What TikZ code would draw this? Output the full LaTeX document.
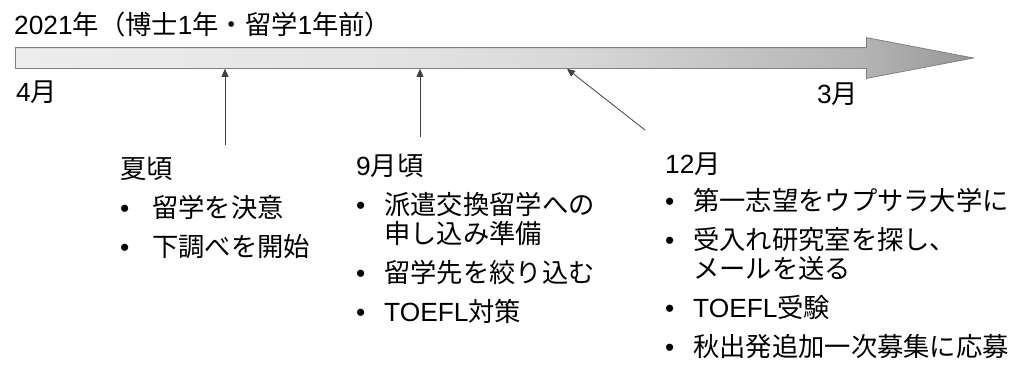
\documentclass[tikz,border=0pt]{standalone}
\usepackage{fontspec}
\setmainfont{Noto Sans CJK JP}
\newfontfamily\lat{Liberation Sans}
\usetikzlibrary{arrows.meta,shapes.arrows,positioning}
\pgfdeclarehorizontalshading{barshade}{100bp}{color(0bp)=(black!7); color(25bp)=(black!7); color(45bp)=(black!11); color(53.5bp)=(black!15); color(69bp)=(black!29); color(73bp)=(black!37); color(75bp)=(black!40); color(100bp)=(black!40)}
\tikzset{
    %Define standard arrow tip
    >={Triangle[length=8pt,width=7pt]},
    %Define style for the time bar
    zeit/.style={
           single arrow,
           draw=black!50, line width=0.8pt,
           shade, shading=barshade,
           single arrow head extend=10pt,
           single arrow tip angle=21.6,
           minimum height=958pt,
           inner xsep=0pt, inner ysep=10pt,
           text height=0pt, text depth=0pt},
    % Define style for texts
    txt/.style={
           inner sep=0pt,
           font=\fontsize{26.3}{29}\selectfont},
    spalte/.style={
           txt,
           align=left,
           anchor=north west},
    % Define arrow style
    pil/.style={
           ->,
           line width=0.8pt,
           draw=black!75}
}
\newcommand{\bul}[1][28pt]{\makebox[#1][l]{\lat\textbullet}}

\begin{document}
\begin{tikzpicture}[x=1pt, y=-1pt]
    \useasboundingbox (0,0) rectangle (1015,365);
    \node (titel) [txt, anchor=west] at (14,25)
          {{\lat 2021}年（博士{\lat 1}年・留学{\lat 1}年前）};
    \node (bar) [zeit, anchor=tail] at (15,58) {};
    \node (apr) [txt, anchor=west] at (16,92) {{\lat 4}月};
    \node (mar) [txt, anchor=west] at (817,94) {{\lat 3}月};
    \node (summer) [spalte] at (120,157)
          {夏頃\\[10pt]
           \bul[32pt]留学を決意\\[10pt]
           \bul[32pt]下調べを開始};
    \node (sept) [spalte] at (356,154)
          {{\lat 9}月頃\\[10pt]
           \bul 派遣交換留学への\\
           \hspace*{28pt}申し込み準備\\[10pt]
           \bul 留学先を絞り込む\\[10pt]
           \bul{\lat TOEFL}対策};
    \node (dec) [spalte] at (665,153)
          {{\lat 12}月\\[8pt]
           \bul 第一志望をウプサラ大学に\\[10pt]
           \bul 受入れ研究室を探し、\\
           \hspace*{28pt}メールを送る\\[10pt]
           \bul{\lat TOEFL}受験\\[10pt]
           \bul 秋出発追加一次募集に応募};
    \coordinate (p1) at (225,145);
    \coordinate (p2) at (420,137);
    \coordinate (p3) at (645,130);
    \draw [pil] (p1) -- (p1 |- bar.south);
    \draw [pil] (p2) -- (p2 |- bar.south);
    \draw [pil] (p3) -- ([xshift=-78pt]p3 |- bar.south);
\end{tikzpicture}
\end{document}
